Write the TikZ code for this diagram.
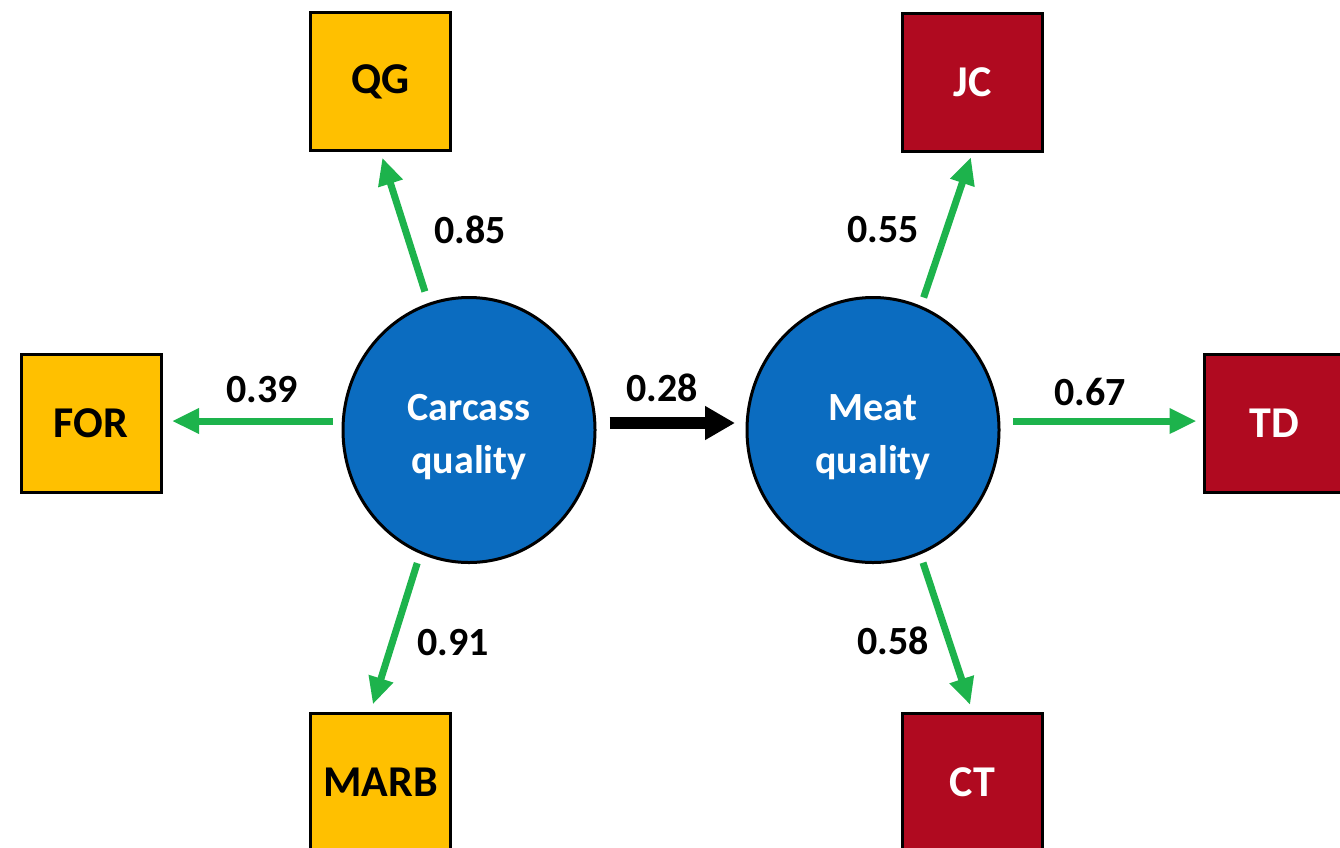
\documentclass[tikz,border=0pt]{standalone}
\usepackage{fontspec}
\setmainfont{Carlito}
\usetikzlibrary{shapes.geometric,arrows.meta}

\definecolor{indyellow}{HTML}{FFC000}
\definecolor{indred}{HTML}{B00A20}
\definecolor{latblue}{HTML}{0B6CC0}
\definecolor{loadgreen}{HTML}{1DB34C}

\tikzset{
  latent/.style={ellipse, draw=black, line width=3pt, fill=latblue,
    minimum width=252pt, minimum height=265pt, inner sep=0pt},
  latenttext/.style={text=white, align=center, yshift=-7pt,
    font=\fontsize{40}{53}\selectfont\bfseries},
  indbox/.style={rectangle, draw=black, line width=3pt,
    minimum width=140pt, minimum height=138pt, inner sep=0pt,
    font=\fontsize{44}{50}\selectfont\bfseries},
  carcbox/.style={indbox, fill=indyellow, text=black},
  meatbox/.style={indbox, fill=indred, text=white},
  loading/.style={draw=loadgreen, line width=7pt,
    -{Triangle[length=27pt,width=24pt]}},
  structural/.style={draw=black, line width=12pt,
    -{Triangle[length=30pt,width=32pt]}},
  coef/.style={font=\fontsize{40}{44}\selectfont\bfseries, text=black, inner sep=0pt}
}

\begin{document}
\begin{tikzpicture}[x=1pt, y=-1pt]
  \useasboundingbox (0,0) rectangle (1340,847);

  % latent constructs
  \node[latent, label={[latenttext]center:Carcass\\quality}] (carcass) at (469,430) {};
  \node[latent, label={[latenttext]center:Meat\\quality}] (meat) at (873,430) {};

  % carcass quality indicators
  \node[carcbox] (qg)   at (380.5,81.5)  {QG};
  \node[carcbox] (for)  at (91,423)      {FOR};
  \node[carcbox] (marb) at (380.5,782.5) {MARB};

  % meat quality indicators
  \node[meatbox] (jc) at (972.5,82)   {JC};
  \node[meatbox] (td) at (1274.5,423) {TD};
  \node[meatbox] (ct) at (972.5,782.5) {CT};

  % loadings of carcass quality
  \draw[loading, shorten <=12pt, shorten >=6pt] (carcass) -- (qg.south);
  \draw[loading, shorten <=9pt, shorten >=9.5pt]
    ([yshift=9pt]carcass.west) -- ([yshift=2pt]for.east);
  \draw[loading, shorten <=139.5pt, shorten >=8pt]
    ([xshift=-10pt]carcass.center) -- ([xshift=-10pt]marb.north);

  % structural path
  \draw[structural, shorten <=13pt, shorten >=10.5pt]
    ([yshift=7pt]carcass.east) -- ([yshift=7pt]meat.west);

  % loadings of meat quality
  \draw[loading, shorten <=139.8pt, shorten >=5pt]
    ([xshift=6pt]meat.center) -- (jc.south);
  \draw[loading, shorten <=12.5pt, shorten >=6.5pt]
    ([yshift=9pt]meat.east) -- ([yshift=2pt]td.west);
  \draw[loading, shorten <=139.8pt, shorten >=7.5pt]
    ([xshift=6pt]meat.center) -- (ct.north);

  % coefficients
  \node[coef] (c85) at (470,230)  {0.85};
  \node[coef] (c39) at (262,390)  {0.39};
  \node[coef] (c91) at (453,643)  {0.91};
  \node[coef] (c28) at (662,388)  {0.28};
  \node[coef] (c55) at (883,230)  {0.55};
  \node[coef] (c67) at (1090,392) {0.67};
  \node[coef] (c58) at (893,641)  {0.58};
\end{tikzpicture}
\end{document}
